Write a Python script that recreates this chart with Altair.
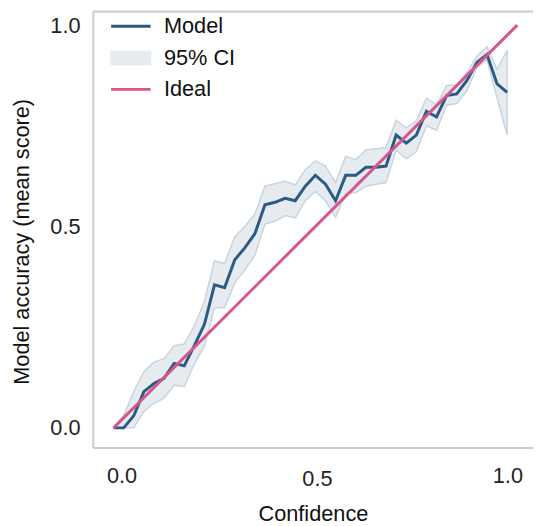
import altair as alt
import pandas as pd

# Confidence bins (x) and model accuracy with 95% CI
confidence = [0.000, 0.025, 0.050, 0.075, 0.100, 0.125, 0.150, 0.175, 0.200, 0.225,
              0.250, 0.275, 0.300, 0.325, 0.350, 0.375, 0.400, 0.425, 0.450, 0.475,
              0.500, 0.525, 0.550, 0.575, 0.600, 0.625, 0.650, 0.675, 0.700, 0.725,
              0.750, 0.775, 0.800, 0.825, 0.850, 0.875, 0.900, 0.925, 0.950, 0.975]
accuracy = [0.000, 0.000, 0.030, 0.090, 0.110, 0.123, 0.160, 0.154, 0.204, 0.257,
            0.355, 0.348, 0.417, 0.447, 0.482, 0.554, 0.560, 0.570, 0.564, 0.600,
            0.627, 0.605, 0.564, 0.627, 0.627, 0.647, 0.647, 0.650, 0.727, 0.707,
            0.727, 0.786, 0.772, 0.825, 0.829, 0.862, 0.907, 0.927, 0.854, 0.833]
ci_upper = [0.000, 0.030, 0.091, 0.139, 0.163, 0.172, 0.204, 0.208, 0.253, 0.314,
            0.415, 0.408, 0.474, 0.500, 0.531, 0.600, 0.606, 0.613, 0.603, 0.641,
            0.663, 0.650, 0.609, 0.674, 0.666, 0.690, 0.693, 0.696, 0.764, 0.745,
            0.762, 0.819, 0.802, 0.850, 0.851, 0.882, 0.923, 0.946, 0.890, 0.938]
ci_lower = [0.000, 0.000, 0.000, 0.041, 0.061, 0.074, 0.106, 0.102, 0.159, 0.203,
            0.298, 0.298, 0.360, 0.392, 0.429, 0.506, 0.513, 0.527, 0.521, 0.564,
            0.587, 0.564, 0.523, 0.582, 0.584, 0.600, 0.605, 0.609, 0.690, 0.668,
            0.686, 0.750, 0.739, 0.801, 0.805, 0.837, 0.895, 0.915, 0.819, 0.727]

ideal_x = [0.0, 1.0]
ideal_y = [0.0, 1.0]

series_names = ["Model", "95% CI", "Ideal"]
series_colors = ["#2c5a82", "#e6ebf0", "#d6568e"]
x_ticks = [0.0, 0.5, 1.0]
y_ticks = [0.0, 0.5, 1.0]

model_df = pd.DataFrame({"x": confidence, "y": accuracy, "series": "Model"})
ci_df = pd.DataFrame({"x": confidence, "lo": ci_lower, "hi": ci_upper, "series": "95% CI"})
ideal_df = pd.DataFrame({"x": ideal_x, "y": ideal_y, "series": "Ideal"})

W, H = 446, 442
FONT = "Liberation Sans"

xscale = alt.Scale(domain=[-0.0513, 1.039], nice=False, zero=False)
yscale = alt.Scale(domain=[-0.049, 1.034], nice=False, zero=False)

color = alt.Color(
    "series:N",
    scale=alt.Scale(domain=series_names, range=series_colors),
    legend=alt.Legend(
        title=None,
        orient="none",
        legendX=27.5,
        legendY=4,
        symbolType=alt.ExprRef(
            expr="datum.value == '95% CI' ? 'M-1.25,-0.42H1.25V0.42H-1.25Z' : 'M-1.25,0H1.25'"
        ),
        symbolSize=1024,
        symbolStrokeWidth=alt.ExprRef(expr="datum.value == '95% CI' ? 1.5 : 3"),
        symbolStrokeColor=alt.ExprRef(
            expr="datum.value == '95% CI' ? '#c8d4df' : (datum.value == 'Model' ? '#2c5a82' : '#d6568e')"
        ),
        symbolFillColor=alt.ExprRef(
            expr="datum.value == '95% CI' ? '#e6ebf0' : 'transparent'"
        ),
        symbolOpacity=1,
        labelFont=FONT,
        labelFontSize=22,
        labelColor="#111111",
        labelOffset=22.5,
        rowPadding=10,
        padding=0,
    ),
)

x_axis = alt.Axis(
    values=x_ticks, format=".1f", title="Confidence", grid=False, ticks=False,
    domainColor="#cccccc", domainWidth=2,
    labelFont=FONT, labelFontSize=22, labelColor="#222222",
    labelPadding=alt.ExprRef(expr="datum.value == 0.5 ? 21 : 18"),
    labelOffset=alt.ExprRef(expr="datum.value == 0 ? 8 : (datum.value == 1 ? -10 : 1.5)"),
    titleFont=FONT, titleFontSize=22, titleFontWeight="normal", titleColor="#111111",
    titlePadding=15,
)
y_axis = alt.Axis(
    values=y_ticks, format=".1f", title="Model accuracy (mean score)", grid=False, ticks=False,
    domainColor="#cccccc", domainWidth=2,
    labelFont=FONT, labelFontSize=22, labelColor="#222222", labelPadding=13,
    titleFont=FONT, titleFontSize=22, titleFontWeight="normal", titleColor="#111111",
    titlePadding=17, titleY=233,
)

band = alt.Chart(ci_df).mark_area(
    stroke="#c8d4df", strokeWidth=1.5, opacity=1
).encode(
    x=alt.X("x:Q", scale=xscale, axis=x_axis),
    y=alt.Y("lo:Q", scale=yscale, axis=y_axis),
    y2="hi:Q",
    color=color,
)

model_line = alt.Chart(model_df).mark_line(strokeWidth=3).encode(
    x=alt.X("x:Q", scale=xscale),
    y=alt.Y("y:Q", scale=yscale),
    color=color,
)

ideal_line = alt.Chart(ideal_df).mark_line(strokeWidth=3).encode(
    x=alt.X("x:Q", scale=xscale),
    y=alt.Y("y:Q", scale=yscale),
    color=color,
)

top_frame = alt.Chart(pd.DataFrame({"a": [0]})).mark_rule(
    color="#cccccc", strokeWidth=2
).encode(x=alt.value(0), x2=alt.value(W), y=alt.value(0))

chart = alt.layer(band, model_line, ideal_line, top_frame).properties(
    width=W, height=H,
    autosize=alt.AutoSizeParams(type="none"),
    padding={"left": 86, "top": 0, "right": 0, "bottom": 76},
).configure_view(stroke=None).configure(background="white")

chart.save("out.html", embed_options={"renderer": "svg", "actions": False})
